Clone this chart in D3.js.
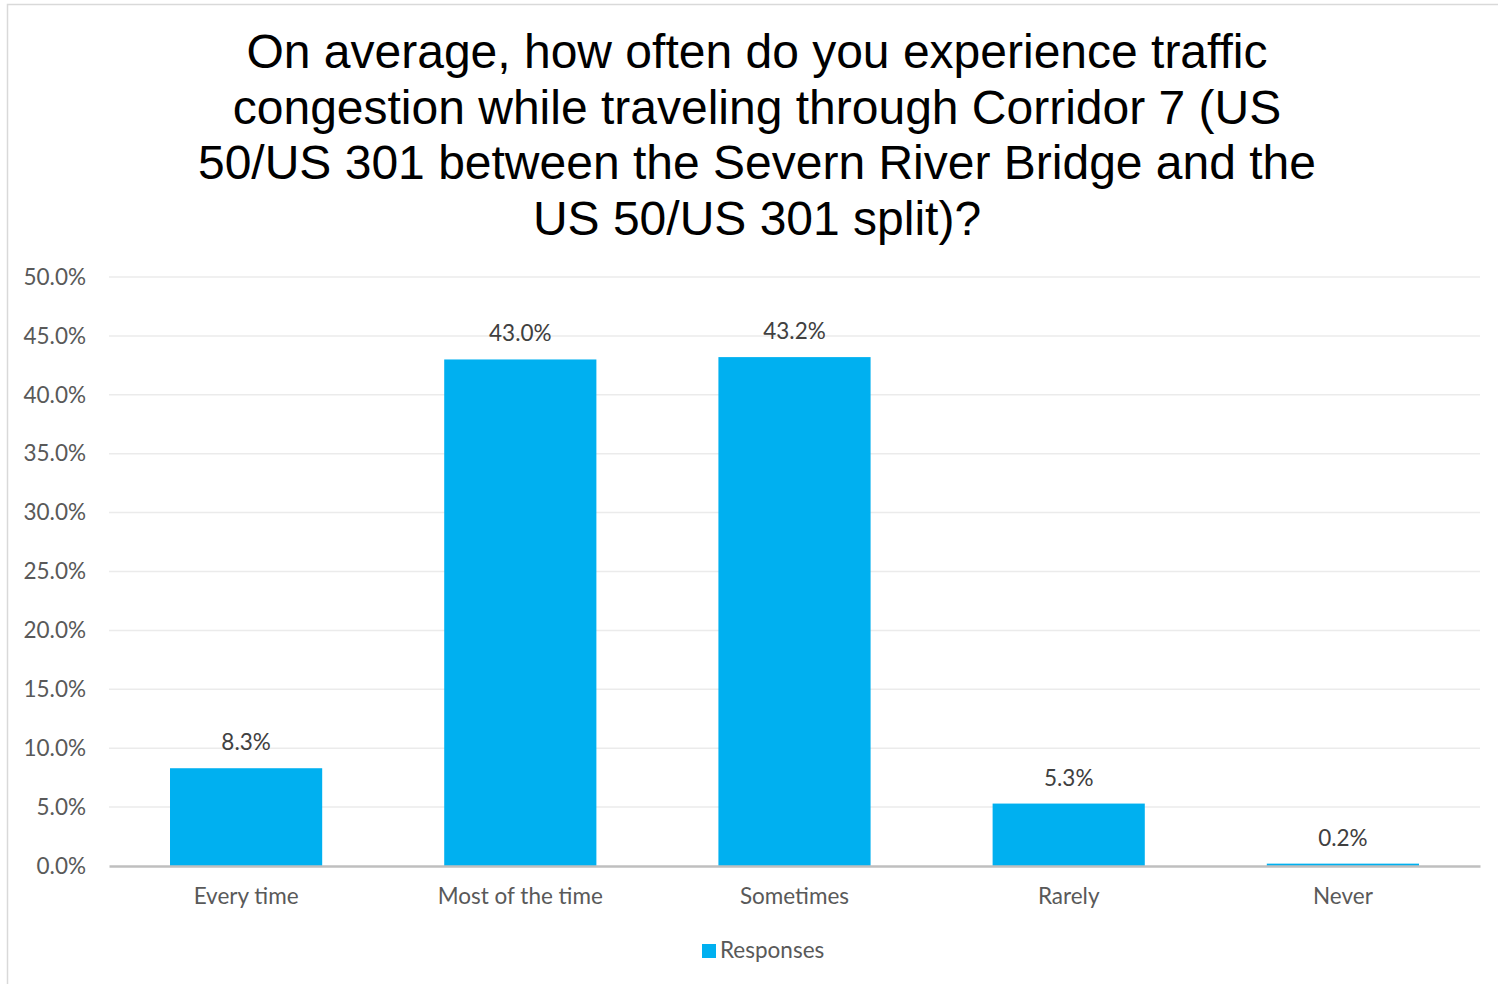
<!DOCTYPE html>
<html>
<head>
<meta charset="utf-8">
<script src="https://cdn.jsdelivr.net/npm/d3@7"></script>
<style>
  body { margin: 0; background: #fff; }
  svg { display: block; }
</style>
</head>
<body>
<div id="chart"></div>
<script>
var categories = ["Every time", "Most of the time", "Sometimes", "Rarely", "Never"];
var responses = [8.3, 43.0, 43.2, 5.3, 0.2];
var yTicks = [0, 5, 10, 15, 20, 25, 30, 35, 40, 45, 50];
var titleLines = [
    "On average, how often do you experience traffic",
    "congestion while traveling through Corridor 7 (US",
    "50/US 301 between the Severn River Bridge and the",
    "US 50/US 301 split)?"
];
var seriesName = "Responses";

var width = 1498;
var height = 984;
var barColor = "#00B0F0";
var labelFont = "Lato, 'Open Sans', sans-serif";
var labelSize = 22.5;

var svg = d3.select("#chart")
    .append("svg")
    .attr("width", width)
    .attr("height", height);

// chart frame
svg.append("rect")
    .attr("x", 7.5)
    .attr("y", 4.5)
    .attr("width", width)
    .attr("height", height)
    .attr("fill", "#fff")
    .attr("stroke", "#d9d9d9")
    .attr("stroke-width", 1.5);

svg.append("g")
    .selectAll("text")
    .data(titleLines)
    .enter()
    .append("text")
    .attr("x", 757)
    .attr("y", function (d, i) { return 68 + i * 55.5; })
    .attr("text-anchor", "middle")
    .attr("font-family", "'Liberation Sans', Arial, sans-serif")
    .attr("font-size", 48)
    .attr("fill", "#000")
    .text(function (d) { return d; });

var xScale = d3.scaleBand()
    .domain(categories)
    .range([109, 1480])
    .paddingInner(0.445)
    .paddingOuter(0.2225);

var yScale = d3.scaleLinear()
    .domain([0, 50])
    .range([866, 277]);

// gridlines
svg.append("g")
    .selectAll("line")
    .data(yTicks.filter(function (d) { return d > 0; }))
    .enter()
    .append("line")
    .attr("x1", 109)
    .attr("x2", 1480)
    .attr("y1", function (d) { return yScale(d); })
    .attr("y2", function (d) { return yScale(d); })
    .attr("stroke", "#ebebeb")
    .attr("stroke-width", 1.5);

var yAxis = d3.axisLeft(yScale)
    .tickValues(yTicks)
    .tickSize(0)
    .tickPadding(0)
    .tickFormat(function (d) { return d.toFixed(1) + "%"; });

var yG = svg.append("g")
    .attr("transform", "translate(86,0)")
    .call(yAxis);
yG.select(".domain").remove();
yG.selectAll("text")
    .attr("font-family", labelFont)
    .attr("font-size", labelSize)
    .attr("fill", "#595959");

svg.append("g")
    .selectAll("rect")
    .data(responses)
    .enter()
    .append("rect")
    .attr("x", function (d, i) { return xScale(categories[i]); })
    .attr("y", function (d) { return yScale(d); })
    .attr("width", xScale.bandwidth())
    .attr("height", function (d) { return yScale(0) - yScale(d); })
    .attr("fill", barColor);

svg.append("g")
    .selectAll("text")
    .data(responses)
    .enter()
    .append("text")
    .attr("x", function (d, i) { return xScale(categories[i]) + xScale.bandwidth() / 2; })
    .attr("y", function (d) { return yScale(d) - 18; })
    .attr("text-anchor", "middle")
    .attr("font-family", labelFont)
    .attr("font-size", labelSize)
    .attr("fill", "#404040")
    .text(function (d) { return d.toFixed(1) + "%"; });

// baseline + category labels
var xAxis = d3.axisBottom(xScale)
    .tickSize(0)
    .tickPadding(22);

var xG = svg.append("g")
    .attr("transform", "translate(0," + yScale(0) + ")")
    .call(xAxis);
xG.select(".domain")
    .attr("stroke", "#bfbfbf")
    .attr("stroke-width", 2.5);
xG.selectAll("text")
    .attr("font-family", labelFont)
    .attr("font-size", labelSize)
    .attr("fill", "#595959");

// legend
var legend = svg.append("g")
    .attr("transform", "translate(702,944)");
legend.append("rect")
    .attr("width", 14)
    .attr("height", 14)
    .attr("fill", barColor);
legend.append("text")
    .attr("x", 18)
    .attr("y", 14)
    .attr("font-family", labelFont)
    .attr("font-size", labelSize)
    .attr("fill", "#595959")
    .text(seriesName);
</script>
</body>
</html>
